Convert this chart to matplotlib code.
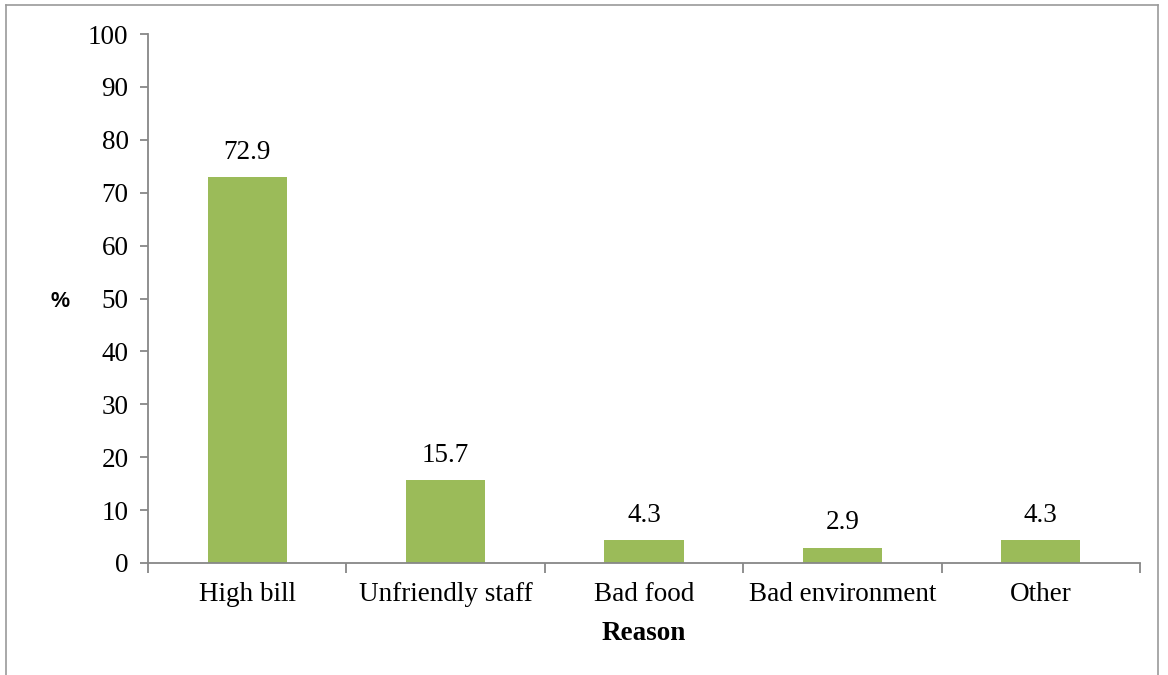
import matplotlib
matplotlib.use("Agg")
import matplotlib.pyplot as plt
from matplotlib.lines import Line2D

categories = ["High bill", "Unfriendly staff", "Bad food", "Bad environment", "Other"]
values = [72.9, 15.7, 4.3, 2.9, 4.3]
yticks = [0, 10, 20, 30, 40, 50, 60, 70, 80, 90, 100]

W, H = 1168, 675
fig = plt.figure(figsize=(W / 100, H / 100), dpi=100)
ax = fig.add_axes([148 / W, (H - 563) / H, (1140 - 148) / W, (563 - 34) / H])

serif = "Liberation Serif"
gray = "#878787"
fs = 19.5

x = list(range(len(categories)))
bars = ax.bar(x, values, width=0.4, color="#9BBB59")
for xi, v in zip(x, values):
    ax.text(xi, v + 2.3, f"{v}", ha="center", va="bottom", fontsize=fs, family=serif)

ax.set_xlim(-0.5, len(categories) - 0.5)
ax.set_ylim(0, 100)
ax.set_yticks(yticks)
ax.set_yticklabels([str(t) for t in yticks], fontsize=fs, family=serif)
ax.set_xticks(x)
ax.set_xticklabels(categories, fontsize=fs, family=serif)
ax.tick_params(axis="x", length=0, pad=14)
ax.tick_params(axis="y", length=6, color=gray, width=1.3, pad=8)
# boundary ticks on x-axis
ax.set_xticks([i - 0.5 for i in range(len(categories) + 1)], minor=True)
ax.tick_params(axis="x", which="minor", length=7, color=gray, width=1.3)

for s in ["top", "right"]:
    ax.spines[s].set_visible(False)
for s in ["left", "bottom"]:
    ax.spines[s].set_color(gray)
    ax.spines[s].set_linewidth(1.3)

ax.set_xlabel("Reason", fontsize=fs, family=serif, fontweight="bold", labelpad=10)
fig.text(60 / W, (H - 302) / H, "%", fontsize=15.5, family="Liberation Sans",
         fontweight="bold", ha="center", va="center")

# outer frame
fc = "#9a9a9a"
fig.add_artist(Line2D([6 / W, 6 / W], [0, (H - 5) / H], color=fc, lw=1.2, transform=fig.transFigure))
fig.add_artist(Line2D([6 / W, 1158 / W], [(H - 5) / H, (H - 5) / H], color=fc, lw=1.2, transform=fig.transFigure))
fig.add_artist(Line2D([1158 / W, 1158 / W], [0, (H - 5) / H], color=fc, lw=1.2, transform=fig.transFigure))

fig.savefig("out.png", dpi=100)
